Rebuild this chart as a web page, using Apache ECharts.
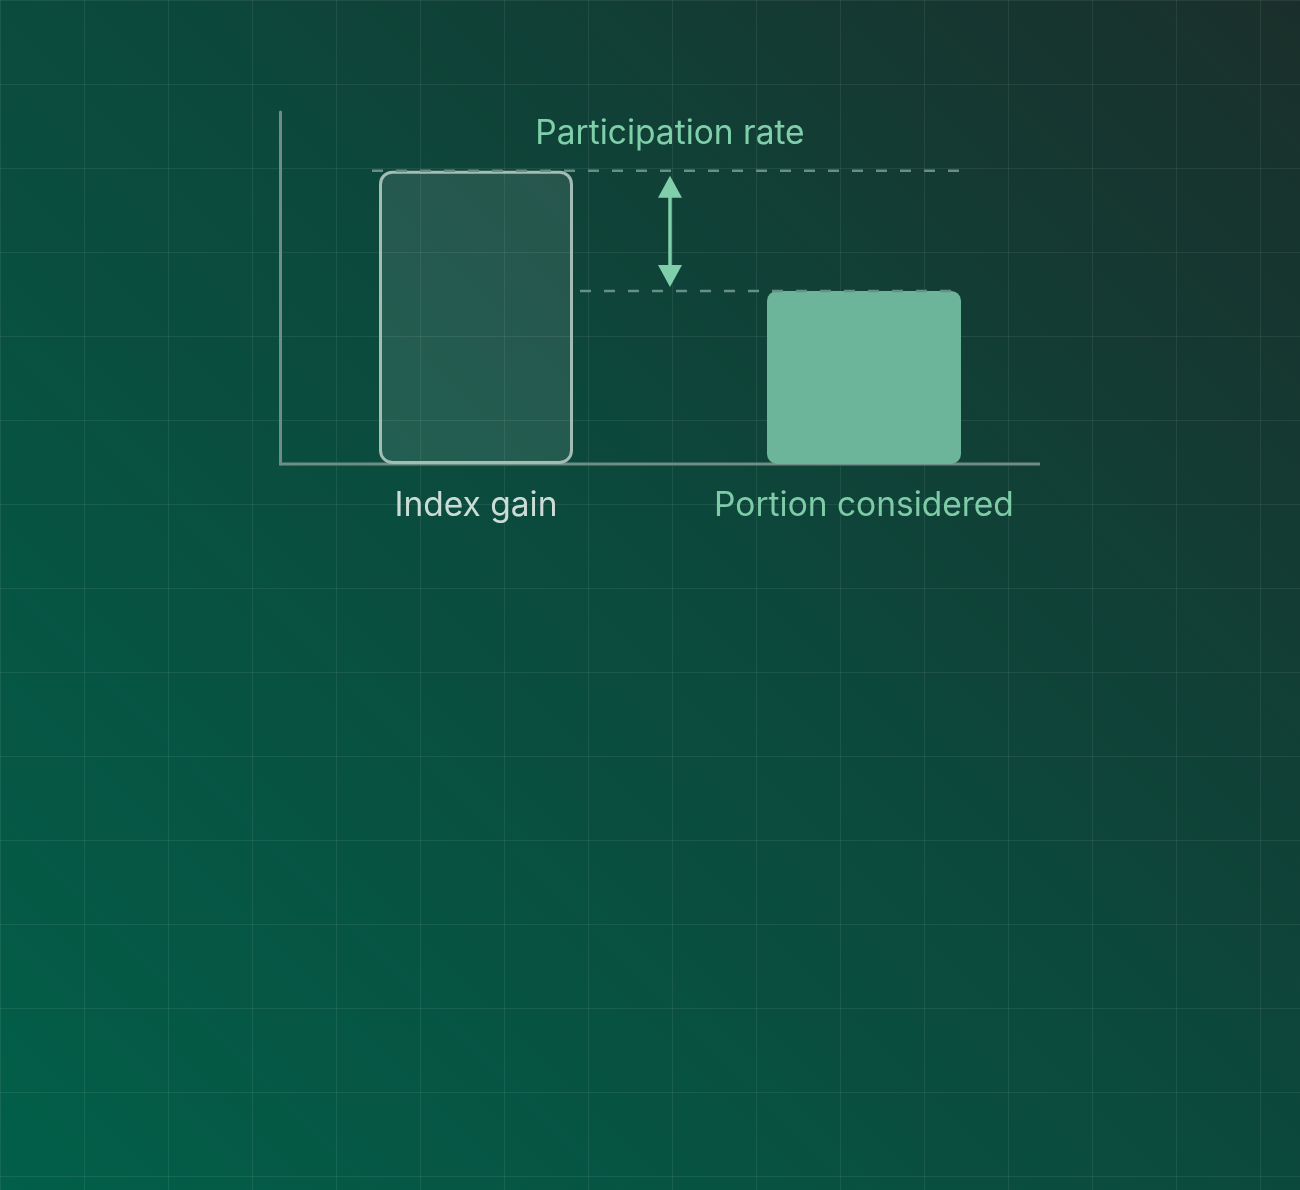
<!DOCTYPE html>
<html>
<head>
    <meta http-equiv="Content-Type" content="text/html; charset=UTF-8">
    <title>Participation rate</title>
    <script src="https://cdn.jsdelivr.net/npm/echarts@6/dist/echarts.min.js"></script>
    <style type="text/css">
        *{padding:0;margin:0}
        body{ width:1300px; height:1190px; overflow:hidden; }
        #wrap{
            width:1300px;
            height:1190px;
            background:
                linear-gradient(to right, rgba(255,255,255,0.07) 1px, transparent 1px),
                linear-gradient(to bottom, rgba(255,255,255,0.07) 1px, transparent 1px),
                linear-gradient(45deg, #025f49 0%, #0b4a3d 50%, #1a2f2b 100%);
            background-size: 84px 84px, 84px 84px, 100% 100%;
        }
        #chart{ width:1300px; height:1190px; }
    </style>
</head>
<body>
<div id="wrap"><div id="chart"></div></div>

<script type="text/javascript">
    // data
    var categories = ['Index gain', 'Portion considered'];
    var values = [100, 59];
    var labelColors = ['#cddbd6', '#7dcca7'];
    var noteText = 'Participation rate';

    var barW = 194;
    var font = 'Inter, "Noto Sans", sans-serif';

    var chart = echarts.init(document.getElementById('chart'));

    // dashed guides + double arrow between the two bar tops
    function drawNote(params, api) {
        var p0 = api.coord([0, values[0]]);
        var p1 = api.coord([1, values[1]]);
        var mid = (p0[0] + p1[0]) / 2;
        var dash = {stroke: '#669085', lineWidth: 2.5, lineDash: [11, 13]};
        var green = '#7fcfaa';
        var topA = p0[1] + 5, botA = p1[1] - 4;
        return {
            type: 'group',
            children: [
                {type: 'line', shape: {x1: p0[0] - barW / 2 - 7, y1: p0[1], x2: p1[0] + barW / 2, y2: p0[1]}, style: dash},
                {type: 'line', shape: {x1: p0[0] + barW / 2 + 7, y1: p1[1], x2: p1[0] + barW / 2, y2: p1[1]}, style: dash},
                {type: 'line', shape: {x1: mid, y1: topA + 10, x2: mid, y2: botA - 10}, style: {stroke: green, lineWidth: 3.5}},
                {type: 'polygon', shape: {points: [[mid, topA], [mid - 12, topA + 22], [mid + 12, topA + 22]]}, style: {fill: green}},
                {type: 'polygon', shape: {points: [[mid, botA], [mid - 12, botA - 22], [mid + 12, botA - 22]]}, style: {fill: green}},
                {type: 'text', x: mid, y: p0[1] - 37, style: {
                    text: noteText, fill: green, font: '33.5px ' + font,
                    align: 'center', verticalAlign: 'middle'
                }}
            ]
        };
    }

    var option = {
        backgroundColor: 'transparent',
        animation: false,
        grid: {left: 282, right: 242, top: 112, bottom: 726},
        xAxis: {
            type: 'category',
            data: categories,
            axisLine: {show: false},
            axisTick: {show: false},
            axisLabel: {
                interval: 0,
                margin: 25,
                fontSize: 33.5,
                fontFamily: font,
                color: function (v, i) { return labelColors[i]; }
            },
            splitLine: {show: false}
        },
        yAxis: {
            type: 'value',
            min: 0,
            max: 120,
            offset: 2,
            axisLine: {show: true, lineStyle: {color: '#6f8c85', width: 3}},
            axisTick: {show: false},
            axisLabel: {show: false},
            splitLine: {show: false}
        },
        graphic: [
            // baseline (x axis stops short of the grid edge)
            {type: 'line', z: 5, shape: {x1: 279, y1: 464, x2: 1040, y2: 464},
                style: {stroke: '#6f8c85', lineWidth: 3}}
        ],
        series: [
            {
                type: 'bar',
                barWidth: barW,
                z: 6,
                data: [
                    {value: values[0], itemStyle: {color: 'rgba(255,255,255,0.1)', borderColor: '#a3bcb4', borderWidth: 3, borderRadius: 12}},
                    {value: values[1], itemStyle: {color: '#6db59a', borderRadius: 10}}
                ]
            },
            {
                type: 'custom',
                z: 8,
                clip: false,
                silent: true,
                data: [[0, values[0]]],
                renderItem: drawNote
            }
        ]
    };

    chart.setOption(option);
</script>
</body>
</html>
